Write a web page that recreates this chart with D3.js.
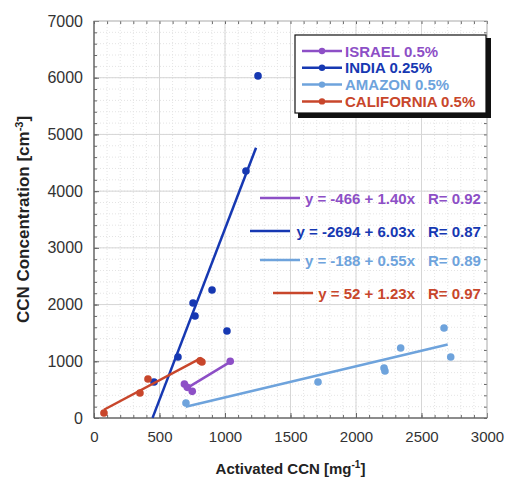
<!DOCTYPE html>
<html>
<head>
<meta charset="utf-8">
<script src="https://cdn.jsdelivr.net/npm/d3@7"></script>
<style>
  body { margin: 0; background: #fff; }
  text { font-family: "Liberation Sans", Arial, sans-serif; }
</style>
</head>
<body>
<script>
var width = 509, height = 479;
var margin = {left: 94, top: 21, right: 22, bottom: 61};

// data
var seriesNames = ["ISRAEL 0.5%", "INDIA 0.25%", "AMAZON 0.5%", "CALIFORNIA 0.5%"];
var seriesColors = ["#8d4fc6", "#1638b2", "#6ea3dc", "#c8462b"];

var israelX = [690, 712, 750, 1040];
var israelY = [600, 540, 470, 1000];
var indiaX = [458, 641, 756, 771, 901, 1015, 1160, 1252];
var indiaY = [635, 1076, 2028, 1799, 2257, 1534, 4356, 6032];
var amazonX = [702, 1710, 2214, 2221, 2341, 2672, 2723];
var amazonY = [265, 635, 882, 829, 1235, 1587, 1076];
var californiaX = [76, 351, 412, 810, 824];
var californiaY = [88, 440, 688, 1010, 988];

// fit coefficients and the x range of each fit line
var fitIntercept = [-466, -2694, -188, 52];
var fitSlope = [1.40, 6.03, 0.55, 1.23];
var fitR = [0.92, 0.87, 0.89, 0.97];
var fitRange = [[700, 1040], [447, 1237], [700, 2700], [76, 820]];

var xTicks = [0, 500, 1000, 1500, 2000, 2500, 3000];
var yTicks = [0, 1000, 2000, 3000, 4000, 5000, 6000, 7000];

var seriesX = [israelX, indiaX, amazonX, californiaX];
var seriesY = [israelY, indiaY, amazonY, californiaY];

var svg = d3.select('body').append('svg')
    .attr('width', width)
    .attr('height', height);

var x = d3.scaleLinear().domain([0, 3000]).range([margin.left, width - margin.right]);
var y = d3.scaleLinear().domain([0, 7000]).range([height - margin.bottom, margin.top]);

/* ============ GRID ============ */
var grid = svg.append('g');
grid.selectAll('.vminor')
    .data(d3.range(100, 3000, 100))
  .enter().append('line')
    .attr('x1', d => x(d)).attr('x2', d => x(d))
    .attr('y1', y(0)).attr('y2', y(7000))
    .style('stroke', '#e4e4e4').style('stroke-dasharray', '1,2');
grid.selectAll('.hminor')
    .data(d3.range(200, 7000, 200))
  .enter().append('line')
    .attr('x1', x(0)).attr('x2', x(3000))
    .attr('y1', d => y(d)).attr('y2', d => y(d))
    .style('stroke', '#e4e4e4').style('stroke-dasharray', '1,2');
grid.selectAll('.vmajor')
    .data(xTicks.slice(1, -1))
  .enter().append('line')
    .attr('x1', d => x(d)).attr('x2', d => x(d))
    .attr('y1', y(0)).attr('y2', y(7000))
    .style('stroke', '#d6d6d6');
grid.selectAll('.hmajor')
    .data(yTicks.slice(1, -1))
  .enter().append('line')
    .attr('x1', x(0)).attr('x2', x(3000))
    .attr('y1', d => y(d)).attr('y2', d => y(d))
    .style('stroke', '#d6d6d6');

/* ============ AXES ============ */
function styleAxis(g, hide, size) {
  g.select('.domain').remove();
  g.selectAll('.tick line').style('stroke', '#666');
  g.selectAll('text').style('font-size', size).style('fill', '#333');
  if (hide) g.selectAll('text').remove();
}
svg.append('g').attr('transform', 'translate(0,' + y(0) + ')')
    .call(d3.axisBottom(x).tickValues(xTicks).tickSize(-5).tickPadding(13).tickFormat(d3.format('d')))
    .call(g => styleAxis(g, false, '15px'));
svg.append('g').attr('transform', 'translate(0,' + y(0) + ')')
    .call(d3.axisBottom(x).tickValues(d3.range(0, 3001, 100)).tickSize(-3).tickFormat(''))
    .call(g => styleAxis(g, true));
svg.append('g').attr('transform', 'translate(' + x(0) + ',0)')
    .call(d3.axisLeft(y).tickValues(yTicks).tickSize(-5).tickPadding(11).tickFormat(d3.format('d')))
    .call(g => styleAxis(g, false, '16px'));
svg.append('g').attr('transform', 'translate(' + x(0) + ',0)')
    .call(d3.axisLeft(y).tickValues(d3.range(0, 7001, 200)).tickSize(-3).tickFormat(''))
    .call(g => styleAxis(g, true));
svg.append('g').attr('transform', 'translate(' + x(3000) + ',0)')
    .call(d3.axisRight(y).tickValues(d3.range(0, 7001, 200)).tickSize(-3).tickFormat(''))
    .call(g => styleAxis(g, true));
svg.append('g').attr('transform', 'translate(0,' + y(7000) + ')')
    .call(d3.axisTop(x).tickValues(d3.range(0, 3001, 100)).tickSize(-3).tickFormat(''))
    .call(g => styleAxis(g, true));

// frame
svg.append('rect')
    .attr('x', x(0)).attr('y', y(7000))
    .attr('width', x(3000) - x(0)).attr('height', y(0) - y(7000))
    .style('fill', 'none').style('stroke', '#aaa');
svg.append('path')
    .attr('d', 'M' + x(0) + ',' + y(7000) + 'V' + y(0) + 'H' + x(3000))
    .style('fill', 'none').style('stroke', '#444');

/* ============ FIT LINES & POINTS ============ */
seriesNames.forEach(function(name, i) {
  var r = fitRange[i];
  svg.append('line')
      .attr('x1', x(r[0])).attr('y1', y(fitIntercept[i] + fitSlope[i] * r[0]))
      .attr('x2', x(r[1])).attr('y2', y(fitIntercept[i] + fitSlope[i] * r[1]))
      .style('stroke', seriesColors[i]).style('stroke-width', 2.5);
  svg.selectAll('.pt' + i)
      .data(d3.zip(seriesX[i], seriesY[i]))
    .enter().append('circle')
      .attr('cx', d => x(d[0])).attr('cy', d => y(d[1]))
      .attr('r', 3.8)
      .style('fill', seriesColors[i]);
});

/* ============ LEGEND ============ */
var legend = svg.append('g').attr('transform', 'translate(295,35)');
legend.append('rect').attr('x', 3).attr('y', 3).attr('width', 193).attr('height', 80).style('fill', '#111');
legend.append('rect').attr('width', 191).attr('height', 78).style('fill', '#fff').style('stroke', '#111').style('stroke-width', 1.2);
seriesNames.forEach(function(name, i) {
  var ly = 16 + i * 16.8;
  legend.append('line').attr('x1', 7).attr('x2', 47).attr('y1', ly).attr('y2', ly)
      .style('stroke', seriesColors[i]).style('stroke-width', 2.5);
  legend.append('circle').attr('cx', 27).attr('cy', ly).attr('r', 3.2).style('fill', seriesColors[i]);
  legend.append('text').attr('x', 50).attr('y', ly + 5.5)
      .text(name)
      .style('font-size', '15px').style('font-weight', 'bold')
      .style('fill', seriesColors[i]);
});

/* ============ EQUATIONS ============ */
var eqY = [198, 231, 260, 293];
var eqLine = [[260, 300], [250, 290], [260, 300], [273, 313]];
seriesNames.forEach(function(name, i) {
  svg.append('line').attr('x1', eqLine[i][0]).attr('x2', eqLine[i][1])
      .attr('y1', eqY[i]).attr('y2', eqY[i])
      .style('stroke', seriesColors[i]).style('stroke-width', 2.5);
  svg.append('text').attr('x', 415).attr('y', eqY[i] + 5.5)
      .attr('text-anchor', 'end')
      .text('y = ' + fitIntercept[i] + ' + ' + fitSlope[i].toFixed(2) + 'x')
      .style('font-size', '15px').style('font-weight', 'bold').style('fill', seriesColors[i]);
  svg.append('text').attr('x', 428).attr('y', eqY[i] + 5.5)
      .text('R= ' + fitR[i].toFixed(2))
      .style('font-size', '15px').style('font-weight', 'bold').style('fill', seriesColors[i]);
});

/* ============ AXIS TITLES ============ */
var xt = svg.append('text')
    .attr('x', (x(0) + x(3000)) / 2).attr('y', 474)
    .attr('text-anchor', 'middle')
    .style('font-size', '15px').style('font-weight', 'bold').style('fill', '#222');
xt.append('tspan').text('Activated CCN [mg');
xt.append('tspan').text('-1').attr('dy', -6).style('font-size', '10px');
xt.append('tspan').text(']').attr('dy', 6);

var yt = svg.append('text')
    .attr('transform', 'translate(29,' + ((y(0) + y(7000)) / 2) + ') rotate(-90)')
    .attr('text-anchor', 'middle')
    .style('font-size', '17px').style('font-weight', 'bold').style('fill', '#222');
yt.append('tspan').text('CCN Concentration [cm');
yt.append('tspan').text('-3').attr('dy', -6).style('font-size', '11px');
yt.append('tspan').text(']').attr('dy', 6);
</script>
</body>
</html>
